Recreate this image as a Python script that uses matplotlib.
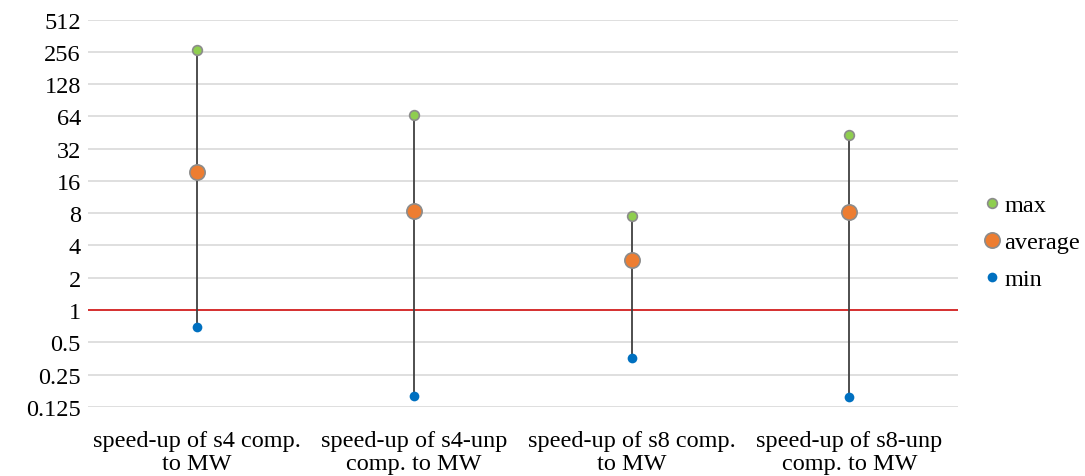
import numpy as np
import matplotlib.pyplot as plt
from matplotlib.ticker import FixedLocator, FixedFormatter, NullLocator

plt.rcParams['font.family'] = ['Liberation Serif', 'DejaVu Serif']

categories = [
    "speed-up of s4 comp.\nto MW",
    "speed-up of s4-unp\ncomp. to MW",
    "speed-up of s8 comp.\nto MW",
    "speed-up of s8-unp\ncomp. to MW",
]
max_vals = [267, 65.7, 7.5, 43]
avg_vals = [19.2, 8.4, 2.92, 8.25]
min_vals = [0.69, 0.158, 0.357, 0.154]

yticks = [0.125, 0.25, 0.5, 1, 2, 4, 8, 16, 32, 64, 128, 256, 512]
ytick_labels = ["0.125", "0.25", "0.5", "1", "2", "4", "8", "16", "32", "64", "128", "256", "512"]

fig = plt.figure(figsize=(10.85, 4.77), dpi=100)
ax = fig.add_axes([0.081, 0.145, 0.802, 0.812])

x = np.arange(len(categories))

ax.set_yscale("log", base=2)
ax.set_ylim(0.125, 512)
ax.set_xlim(-0.5, len(categories) - 0.5)

for y in yticks:
    ax.axhline(y, color="#d9d9d9", lw=1.2, zorder=0)
ax.axhline(1, color="#d40000", lw=1.1, zorder=1)

# high-low lines
ax.vlines(x, min_vals, max_vals, color="#404040", lw=1.3, zorder=2)

ax.plot(x, max_vals, "o", ms=7, mfc="#8fce4f", mec="#8c8c8c", mew=1.2,
        ls="none", label="max", zorder=3)
ax.plot(x, avg_vals, "o", ms=11, mfc="#ed7d31", mec="#8c8c8c", mew=1.2,
        ls="none", label="average", zorder=3)
ax.plot(x, min_vals, "o", ms=7, mfc="#0070c0", mec="#0070c0", mew=0,
        ls="none", label="min", zorder=3)

ax.yaxis.set_major_locator(FixedLocator(yticks))
ax.yaxis.set_major_formatter(FixedFormatter(ytick_labels))
ax.yaxis.set_minor_locator(NullLocator())
ax.set_xticks(x)
ax.set_xticklabels(categories, fontsize=17.5, linespacing=1.12)
ax.tick_params(axis="y", labelsize=17.5, length=0, pad=5)
ax.tick_params(axis="x", length=0, pad=17)

for s in ax.spines.values():
    s.set_visible(False)

ax.legend(loc="center left", bbox_to_anchor=(1.028, 0.425), frameon=False,
          fontsize=17.5, handlelength=0.8, handletextpad=0.1,
          labelspacing=0.62, borderaxespad=0, borderpad=0)

fig.savefig("out.png", dpi=100)
